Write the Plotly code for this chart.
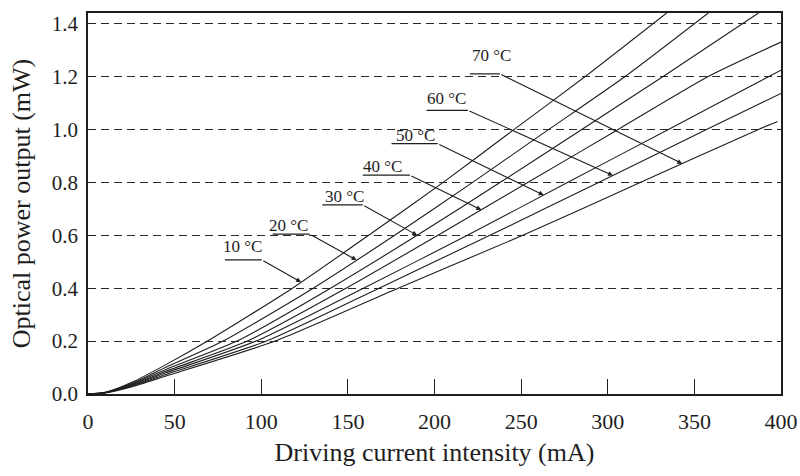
import numpy as np
import plotly.graph_objects as go

# Laser diode P-I characteristics at several case temperatures
temperatures = ["10 °C", "20 °C", "30 °C", "40 °C", "50 °C", "60 °C", "70 °C"]

current_10 = [0, 10, 25, 45, 69, 118, 162, 205, 246, 287, 334]
power_10 = [0, 0.006, 0.043, 0.111, 0.2, 0.4, 0.6, 0.8, 1.0, 1.2, 1.44]

current_20 = [0, 10, 25, 45, 78, 130, 177, 222, 266, 310, 358]
power_20 = [0, 0.006, 0.040, 0.101, 0.2, 0.4, 0.6, 0.8, 1.0, 1.2, 1.44]

current_30 = [0, 10, 25, 45, 86, 140, 190, 238, 285, 332, 387]
power_30 = [0, 0.005, 0.037, 0.093, 0.2, 0.4, 0.6, 0.8, 1.0, 1.2, 1.44]

current_40 = [0, 10, 25, 45, 92, 149, 202, 254, 306, 358, 400]
power_40 = [0, 0.005, 0.034, 0.086, 0.2, 0.4, 0.6, 0.8, 1.0, 1.2, 1.33]

current_50 = [0, 10, 25, 45, 97, 159, 219, 277, 335, 393, 400]
power_50 = [0, 0.005, 0.032, 0.080, 0.2, 0.4, 0.6, 0.8, 1.0, 1.2, 1.224]

current_60 = [0, 10, 25, 45, 103, 168, 232, 295, 357, 400]
power_60 = [0, 0.005, 0.030, 0.074, 0.2, 0.4, 0.6, 0.8, 1.0, 1.136]

current_70 = [0, 10, 25, 45, 108, 179, 251, 319, 387, 398]
power_70 = [0, 0.004, 0.027, 0.068, 0.2, 0.4, 0.6, 0.8, 1.0, 1.03]

x_ticks = [0, 50, 100, 150, 200, 250, 300, 350, 400]
y_ticks = [0.0, 0.2, 0.4, 0.6, 0.8, 1.0, 1.2, 1.4]

currents = [current_10, current_20, current_30, current_40, current_50, current_60, current_70]
powers = [power_10, power_20, power_30, power_40, power_50, power_60, power_70]

# Callout layout per curve: text centre, underline span, and where the arrow meets the curve
label_x = [89, 116, 148, 170, 189, 207, 233]
label_y = [0.556, 0.636, 0.746, 0.860, 0.977, 1.118, 1.281]
underline_x0 = [79, 106.6, 135.3, 158.6, 175.2, 195.4, 220.4]
underline_x1 = [100.3, 128, 158.6, 185.8, 201.9, 219.3, 237.7]
underline_y = [0.507, 0.604, 0.715, 0.827, 0.946, 1.072, 1.21]
arrow_x = [123, 155, 190, 227, 263, 303, 343]

serif = "Liberation Serif, Times New Roman, serif"
ink = "#1e1e1e"

fig = go.Figure()

for name, cx, py in zip(temperatures, currents, powers):
    fig.add_trace(go.Scatter(
        x=cx, y=py, mode="lines", name=name,
        line=dict(color=ink, width=1.1, shape="spline", smoothing=0.6),
        showlegend=False, hoverinfo="x+y+name",
    ))

for i, name in enumerate(temperatures):
    tip_y = float(np.interp(arrow_x[i], currents[i], powers[i]))
    # underline beneath the temperature text
    fig.add_shape(type="line", xref="x", yref="y",
                  x0=underline_x0[i], x1=underline_x1[i],
                  y0=underline_y[i], y1=underline_y[i],
                  line=dict(color=ink, width=1.2))
    # leader with arrowhead running to the curve
    fig.add_annotation(x=arrow_x[i], y=tip_y, ax=underline_x1[i], ay=underline_y[i],
                       xref="x", yref="y", axref="x", ayref="y",
                       text="", showarrow=True, arrowhead=2, arrowsize=0.9,
                       arrowwidth=1.1, arrowcolor=ink, standoff=0)
    fig.add_annotation(x=label_x[i], y=label_y[i], xref="x", yref="y",
                       text=name, showarrow=False,
                       font=dict(family=serif, size=17, color=ink))

fig.update_xaxes(
    range=[0, 400], tickvals=x_ticks, ticktext=[str(v) for v in x_ticks],
    ticks="inside", ticklen=15, tickwidth=1.2, tickcolor=ink,
    showline=True, mirror=True, linecolor=ink, linewidth=1.5,
    showgrid=False, zeroline=False, ticklabelstandoff=7, automargin=False,
    tickfont=dict(family=serif, size=22, color=ink),
    title=dict(text="Driving current intensity (mA)", standoff=10,
               font=dict(family=serif, size=26, color=ink)),
)
fig.update_yaxes(
    range=[0, 1.44], tickvals=y_ticks, tickformat=".1f",
    ticks="inside", ticklen=6, tickwidth=1.2, tickcolor=ink,
    showline=True, mirror=True, linecolor=ink, linewidth=1.5,
    showgrid=True, gridcolor="#2a2a2a", gridwidth=1, griddash="8px,5px",
    zeroline=False, ticklabelstandoff=4, automargin=False,
    tickfont=dict(family=serif, size=21, color=ink),
    title=dict(text="Optical power output (mW)", standoff=14,
               font=dict(family=serif, size=26, color=ink)),
)

fig.update_layout(
    width=800, height=476,
    margin=dict(l=88, r=19, t=13, b=82),
    paper_bgcolor="white", plot_bgcolor="white",
)

fig.write_html("out.html")
